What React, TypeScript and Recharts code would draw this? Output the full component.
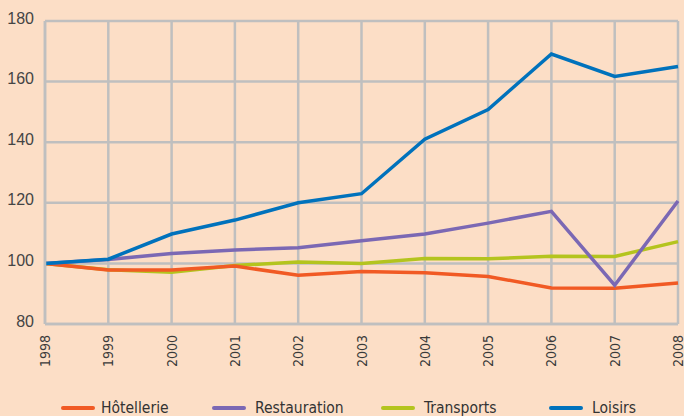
import React from 'react';
import { LineChart, Line, XAxis, YAxis, CartesianGrid, Legend } from 'recharts';

const years = ['1998', '1999', '2000', '2001', '2002', '2003', '2004', '2005', '2006', '2007', '2008'];
const hotellerie = [100, 97.8, 97.8, 99.1, 96.1, 97.3, 96.9, 95.7, 91.9, 91.8, 93.5];
const restauration = [100, 101.3, 103.3, 104.4, 105.2, 107.5, 109.7, 113.3, 117.2, 92.8, 120.6];
const transports = [100, 97.9, 97.1, 99.3, 100.5, 100, 101.6, 101.5, 102.4, 102.3, 107.2];
const loisirs = [100, 101.4, 109.7, 114.3, 120, 123, 141, 150.8, 169.1, 161.7, 165];
const yTicks = [80, 100, 120, 140, 160, 180];

const series = [
  { key: 'hotellerie', name: 'Hôtellerie', color: '#F15A24' },
  { key: 'restauration', name: 'Restauration', color: '#7B68B4' },
  { key: 'transports', name: 'Transports', color: '#B4C41E' },
  { key: 'loisirs', name: 'Loisirs', color: '#0072BC' },
];

const data = years.map((y, i) => ({
  year: y,
  hotellerie: hotellerie[i],
  restauration: restauration[i],
  transports: transports[i],
  loisirs: loisirs[i],
}));

const GRID = '#BFBFBF';
const NARROW = "'Liberation Sans Narrow', 'DejaVu Sans Condensed', 'Arial Narrow', sans-serif";

const XTick = (props: any) => {
  const { x, y, payload } = props;
  return (
    <text
      x={x}
      y={y + 3}
      transform={`rotate(-90 ${x} ${y + 3})`}
      textAnchor="end"
      dy="0.36em"
      fill="#3a3a3a"
      fontSize={14}
      fontFamily={NARROW}
    >
      {payload.value}
    </text>
  );
};

const legendX = [[61, 101], [212, 255], [381, 424], [549, 592]];

const LegendContent = () => (
  <div style={{ position: 'relative', width: 684, height: 42 }}>
    {series.map((s, i) => (
      <div key={s.key}>
        <div
          style={{
            position: 'absolute',
            left: legendX[i][0],
            top: 32,
            width: 34,
            height: 4,
            borderRadius: 2,
            background: s.color,
          }}
        />
        <div
          style={{
            position: 'absolute',
            left: legendX[i][1],
            top: 24,
            fontFamily: NARROW,
            fontSize: 15.5,
            lineHeight: '20px',
            color: '#333',
            whiteSpace: 'nowrap',
          }}
        >
          {s.name}
        </div>
      </div>
    ))}
  </div>
);

export default function App() {
  return (
    <div
      style={{
        position: 'absolute',
        left: 0,
        top: 0,
        width: 684,
        height: 416,
        background: '#FCDEC6',
        overflow: 'hidden',
      }}
    >
      <LineChart
        width={684}
        height={416}
        data={data}
        margin={{ top: 21, right: 6, left: 0, bottom: 0 }}
      >
        <CartesianGrid stroke={GRID} strokeWidth={2.5} />
        <XAxis
          dataKey="year"
          height={50}
          tickLine={false}
          axisLine={{ stroke: GRID, strokeWidth: 2.5 }}
          tick={<XTick />}
          interval={0}
        />
        <YAxis
          width={45}
          domain={[80, 180]}
          ticks={yTicks}
          tickLine={false}
          tickMargin={5}
          axisLine={{ stroke: GRID, strokeWidth: 2.5 }}
          tick={{ fill: '#444', fontSize: 16, fontFamily: "'Liberation Sans', sans-serif", dy: -3 }}
          interval={0}
        />
        <Legend verticalAlign="bottom" content={<LegendContent />} />
        <Line dataKey="transports" name="Transports" stroke="#B4C41E" strokeWidth={3.5} dot={false} isAnimationActive={false} />
        <Line dataKey="hotellerie" name="Hôtellerie" stroke="#F15A24" strokeWidth={3.5} dot={false} isAnimationActive={false} />
        <Line dataKey="restauration" name="Restauration" stroke="#7B68B4" strokeWidth={3.5} dot={false} isAnimationActive={false} />
        <Line dataKey="loisirs" name="Loisirs" stroke="#0072BC" strokeWidth={3.5} dot={false} isAnimationActive={false} />
      </LineChart>
    </div>
  );
}
